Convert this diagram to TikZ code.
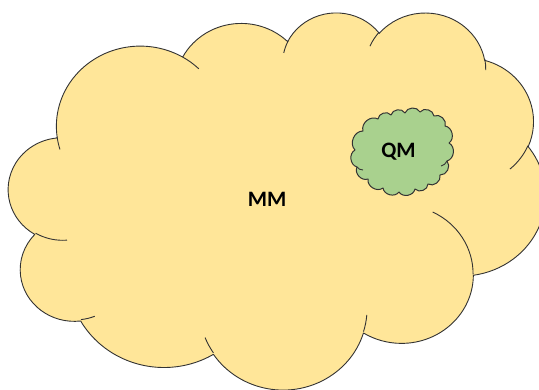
\documentclass[tikz,border=0pt]{standalone}
\usepackage{fontspec}
\setmainfont{Carlito}
\definecolor{cloudyellow}{HTML}{FFE699}
\definecolor{cloudgreen}{HTML}{A9D18E}
\definecolor{edgegray}{HTML}{333333}
% visual (OOXML) angles -> parametric arc angles
\newcommand\mkarc[5]{%
  \pgfmathsetmacro\mkA{#4}%
  \pgfmathsetmacro\mkB{#4+#5}%
  \pgfmathsetmacro\mkTs{atan2(#2*sin(\mkA),#3*cos(\mkA))}%
  \pgfmathsetmacro\mkTe{atan2(#2*sin(\mkB),#3*cos(\mkB))}%
  \pgfmathsetmacro\mkD{\mkTe-\mkTs}%
  \pgfmathsetmacro\mkD{\mkD+360*round((#5-\mkD)/360)}%
  \expandafter\xdef\csname clS#1\endcsname{\mkTs}%
  \expandafter\xdef\csname clD#1\endcsname{\mkD}%
}
\tikzset{
  outline/.style={draw=edgegray, line width=0.9pt, line join=round},
  bigcloud/.style={outline, fill=cloudyellow},
  smallcloud/.style={draw=edgegray, line width=1pt, line join=round, fill=cloudgreen},
  puff/.style={bend left=68, looseness=1.1},
  label/.style={font=\bfseries\fontsize{22}{26}\selectfont, text=black, inner sep=0pt}
}
\begin{document}
\begin{tikzpicture}[x=1pt,y=1pt]
\useasboundingbox (0,0) rectangle (539,389);
% outer path arcs
\mkarc{a}{6.753}{9.190}{-190.48748}{123.78053}
\mkarc{b}{5.333}{7.267}{-144.10238}{89.94523}
\mkarc{c}{4.365}{5.945}{-145.80792}{99.72302}
\mkarc{d}{4.857}{6.595}{-130.98607}{117.24173}
\mkarc{e}{5.333}{7.273}{-78.70888}{109.02692}
\mkarc{f}{6.775}{9.220}{-46.26725}{130.269}
\mkarc{g}{5.785}{7.867}{0.62502}{114.03333}
\mkarc{h}{6.752}{9.215}{22.4516}{115.17255}
\mkarc{i}{7.720}{10.543}{66.24263}{75.91358}
\mkarc{j}{4.360}{5.918}{-274.94208}{146.73557}
\mkarc{k}{4.345}{5.945}{-246.8285}{152.51885}
% inner path arcs
\mkarc{ia}{4.345}{5.945}{86.742}{26.4295}
\mkarc{ib}{4.360}{5.918}{73.61047}{11.44747}
\mkarc{ic}{6.752}{9.215}{137.62415}{14.0811}
\mkarc{id}{6.752}{9.215}{6.45327}{15.99835}
\mkarc{ie}{5.785}{7.867}{-70.29235}{70.91737}
\mkarc{if}{5.333}{7.273}{30.31803}{27.7515}
\mkarc{ig}{4.857}{6.595}{-13.74433}{14.8589}
\mkarc{ih}{4.857}{6.595}{-149.18145}{18.19537}
\mkarc{ii}{4.365}{5.945}{-163.49427}{17.68635}
\mkarc{ij}{6.753}{9.190}{-66.70695}{12.31935}
\mkarc{ik}{6.753}{9.190}{157.65435}{11.85817}
\begin{scope}[shift={(8.7,377.3)}, xscale=12.423, yscale=-8.727]
\path[bigcloud] (3.900,14.370)
  arc[start angle=\clSa, delta angle=\clDa, x radius=6.753, y radius=9.190]
  arc[start angle=\clSb, delta angle=\clDb, x radius=5.333, y radius=7.267]
  arc[start angle=\clSc, delta angle=\clDc, x radius=4.365, y radius=5.945]
  arc[start angle=\clSd, delta angle=\clDd, x radius=4.857, y radius=6.595]
  arc[start angle=\clSe, delta angle=\clDe, x radius=5.333, y radius=7.273]
  arc[start angle=\clSf, delta angle=\clDf, x radius=6.775, y radius=9.220]
  arc[start angle=\clSg, delta angle=\clDg, x radius=5.785, y radius=7.867]
  arc[start angle=\clSh, delta angle=\clDh, x radius=6.752, y radius=9.215]
  arc[start angle=\clSi, delta angle=\clDi, x radius=7.720, y radius=10.543]
  arc[start angle=\clSj, delta angle=\clDj, x radius=4.360, y radius=5.918]
  arc[start angle=\clSk, delta angle=\clDk, x radius=4.345, y radius=5.945]
  -- cycle;
\path[outline]
  (4.693,26.177) arc[start angle=\clSia, delta angle=\clDia, x radius=4.345, y radius=5.945]
  (6.928,34.899) arc[start angle=\clSib, delta angle=\clDib, x radius=4.360, y radius=5.918]
  (16.478,39.090) arc[start angle=\clSic, delta angle=\clDic, x radius=6.752, y radius=9.215]
  (28.827,34.751) arc[start angle=\clSid, delta angle=\clDid, x radius=6.752, y radius=9.215]
  (34.129,22.954) arc[start angle=\clSie, delta angle=\clDie, x radius=5.785, y radius=7.867]
  (41.798,15.354) arc[start angle=\clSif, delta angle=\clDif, x radius=5.333, y radius=7.273]
  (38.324,5.426) arc[start angle=\clSig, delta angle=\clDig, x radius=4.857, y radius=6.595]
  (29.078,3.952) arc[start angle=\clSih, delta angle=\clDih, x radius=4.857, y radius=6.595]
  (22.141,4.720) arc[start angle=\clSii, delta angle=\clDii, x radius=4.365, y radius=5.945]
  (14.000,5.192) arc[start angle=\clSij, delta angle=\clDij, x radius=6.753, y radius=9.190]
  (4.127,15.789) arc[start angle=\clSik, delta angle=\clDik, x radius=6.753, y radius=9.190];
\end{scope}
% small green cloud
\path[smallcloud] (355,239)
  to[puff] (363,258) to[puff] (378,270) to[puff] (391,274) to[puff] (405,276)
  to[puff] (420,277) to[puff] (434,273) to[puff] (445,263) to[puff] (449,246)
  to[puff] (447,228) to[puff] (440,214) to[puff] (428,205) to[puff] (415,200)
  to[puff] (399,197) to[puff] (383,201) to[puff] (368,210) to[puff] (357,222)
  to[puff] (355,239) -- cycle;
\draw[edgegray, line width=0.9pt] (447,228) to[bend left=25] (441,223);
\draw[edgegray, line width=0.9pt] (357,222) to[bend right=25] (363,219);
\node[label] (mm) at (267,190) {MM};
\node[label] (qm) at (398.5,237) {QM};
\end{tikzpicture}
\end{document}
